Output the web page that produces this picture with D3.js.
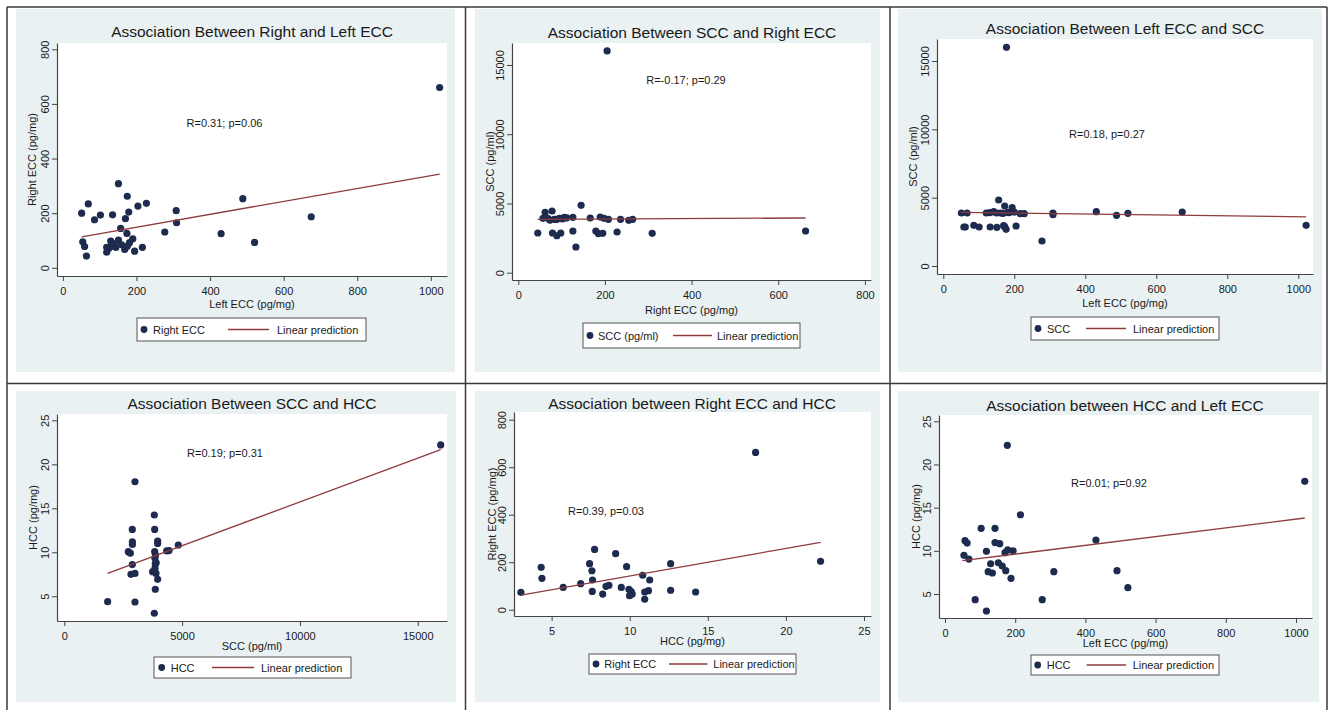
<!DOCTYPE html>
<html><head><meta charset="utf-8">
<script src="https://cdn.jsdelivr.net/npm/d3@7"></script>
<style>
body{margin:0;background:#fff;}
svg{display:block;font-family:"Liberation Sans",Arial,sans-serif;}
</style></head>
<body><svg id="c" width="1331" height="710"></svg>
<script>
// ---------- DATA ----------
const titles = ["Association Between Right and Left ECC","Association Between SCC and Right ECC","Association Between Left ECC and SCC",
  "Association Between SCC and HCC","Association between Right ECC and HCC","Association between HCC and Left ECC"];
const xLabels = ["Left ECC (pg/mg)","Right ECC (pg/mg)","Left ECC (pg/mg)","SCC (pg/ml)","HCC (pg/mg)","Left ECC (pg/mg)"];
const yLabels = ["Right ECC (pg/mg)","SCC (pg/ml)","SCC (pg/ml)","HCC (pg/mg)","Right ECC (pg/mg)","HCC (pg/mg)"];
const legendLabels = ["Right ECC","SCC (pg/ml)","SCC","HCC","Right ECC","HCC"];
const notes = ["R=0.31; p=0.06","R=-0.17; p=0.29","R=0.18, p=0.27","R=0.19; p=0.31","R=0.39, p=0.03","R=0.01; p=0.92"];

const xTicks1 = [0,200,400,600,800,1000], yTicks1 = [0,200,400,600,800];
const xTicks2 = [0,200,400,600,800], yTicks2 = [0,5000,10000,15000];
const xTicks3 = [0,200,400,600,800,1000], yTicks3 = [0,5000,10000,15000];
const xTicks4 = [0,5000,10000,15000], yTicks4 = [5,10,15,20,25];
const xTicks5 = [5,10,15,20,25], yTicks5 = [0,200,400,600,800];
const xTicks6 = [0,200,400,600,800,1000], yTicks6 = [5,10,15,20,25];

// Left ECC vs Right ECC
const pts1 = [[51,200],[54,95],[59,78],[64,43],[69,234],[86,176],[102,193],[119,75],[119,57],[125,72],[130,98],[132,79],
  [135,194],[140,88],[144,75],[151,308],[151,101],[157,144],[160,84],[168,67],[170,180],[175,262],[174,126],[175,79],[179,204],
  [181,92],[190,106],[195,61],[204,226],[216,75],[227,236],[277,131],[308,209],[309,165],[430,125],[489,253],[521,93],[675,187],[1024,660]];
// Right ECC vs SCC
const pts2 = [[45,2866],[57,3928],[62,4360],[68,3928],[73,3800],[78,4455],[79,2866],[83,3855],[88,3850],[89,2670],[95,3928],
  [98,2866],[102,3880],[106,4000],[112,3960],[126,4000],[126,3011],[133,1855],[145,4866],[166,3950],[179,3011],[185,2816],
  [189,4020],[195,2845],[198,3928],[205,16013],[208,3855],[228,2939],[236,3855],[255,3783],[264,3855],[309,2845],[663,3010]];
// Left ECC vs SCC
const pts3 = [[51,3878],[58,2854],[62,2854],[67,3878],[86,2978],[101,2854],[121,3878],[131,3900],[132,2854],[142,3975],
  [150,3880],[151,2830],[156,4829],[161,3878],[168,3850],[170,2950],[173,4390],[173,2878],[177,2683],[178,16000],[181,3927],
  [185,3900],[194,4268],[200,3950],[205,2927],[217,3830],[228,3830],[278,1829],[309,3878],[309,3750],[431,3975],[488,3707],
  [520,3853],[673,3951],[1022,2976]];
// SCC vs HCC
const pts4 = [[1840,4.39],[2717,10.07],[2802,9.9],[2830,7.5],[2886,12.6],[2890,11.2],[2890,10.9],[2887,8.6],[3000,7.6],
  [3000,18.02],[3000,4.35],[3820,14.24],[3836,12.6],[3836,10.07],[3849,9.32],[3860,8.7],[3850,8.2],[3750,7.8],[3891,7.6],
  [3962,6.93],[3862,5.8],[3820,3.07],[3962,11.28],[3962,11.0],[3900,8.8],[3870,9.7],[4346,10.15],[4444,10.2],[4838,10.83],[15976,22.2]];
// HCC vs Right ECC
const pts5 = [[3.03,73],[4.33,178.5],[4.38,132],[5.74,94],[6.86,109.5],[7.43,194],[7.75,254],[7.58,164],[7.62,125],[7.6,77],
  [8.27,66],[8.48,98.5],[8.67,103],[9.1,236],[9.46,94],[9.8,181],[9.95,86],[10.1,76],[9.99,59],[10.16,66],[10.83,145],
  [10.96,44],[10.96,74.5],[11.2,80],[11.28,125],[12.62,194],[12.62,82],[14.22,74.5],[18.06,662],[22.22,203.5]];
// Left ECC vs HCC
const pts6 = [[54,9.48],[57,11.17],[63,10.9],[68,9.05],[86,4.34],[103,12.6],[118,9.94],[118,3.03],[123,7.58],[130,8.5],
  [135,7.43],[142.5,12.6],[142.5,10.95],[152,8.62],[156,10.83],[163,8.24],[171,9.78],[173,7.7],[178.6,10.1],[177.6,22.22],
  [188,6.82],[194,10.0],[215,14.18],[277,4.34],[310,7.58],[430,11.25],[490,7.7],[521,5.73],[1025,18.05]];

// Linear prediction endpoints
const fit1 = [[51,113.5],[1024,343]];
const fit2 = [[45,3850],[663,3950]];
const fit3 = [[50,3920],[1022,3600]];
const fit4 = [[1840,7.61],[15976,21.67]];
const fit5 = [[3.04,61.8],[22.22,283.5]];
const fit6 = [[49.4,8.86],[1025,13.8]];

// ---------- LAYOUT ----------
const layout = [
 {bg:[16,9,455,372], box:[57,43,447,276], xd:[-16,1044], yd:[-30,823], title:[252,36.5], note:[224.5,127], xt:308, yt:36.3,
  leg:[137,318,366,341], lm:7, lt:16, l1:91, l2:132, lt2:140},
 {bg:[475,9,880,372], box:[512,43,871,280], xd:[-14.5,814], yd:[-527,16588], title:[692,37.5], note:[686,84], xt:314, yt:494,
  leg:[583,323,800,348], lm:7, lt:15, l1:90, l2:129, lt2:134},
 {bg:[898,9,1322,372], box:[937,39,1313,274], xd:[-17.7,1041.4], yd:[-585,16610], title:[1125,33.5], note:[1107,138], xt:307, yt:916.7,
  leg:[1031,317,1219,340], lm:7, lt:16, l1:55, l2:95, lt2:102},
 {bg:[16,391,456,702], box:[57,414,447,621], xd:[-310,16243], yd:[2.19,25.72], title:[252,409], note:[225,457], xt:650, yt:37.3,
  leg:[154,657,351,678], lm:7.7, lt:16.7, l1:58, l2:100, lt2:107},
 {bg:[475,391,880,702], box:[514,412,871,616], xd:[2.59,25.45], yd:[-26.5,832.4], title:[692,409], note:[606,515], xt:645, yt:495.7,
  leg:[589,654,796,674], lm:7, lt:15.3, l1:80, l2:118.3, lt2:124.3},
 {bg:[898,391,1319,702], box:[939,415,1312,618], xd:[-17.1,1045.6], yd:[2.22,25.73], title:[1125,410.5], note:[1109,487], xt:647, yt:919.7,
  leg:[1031,655,1219,675], lm:6.7, lt:15.7, l1:55.7, l2:95, lt2:101.7}
];

const allPts = [pts1,pts2,pts3,pts4,pts5,pts6];
const allFits = [fit1,fit2,fit3,fit4,fit5,fit6];
const allXT = [xTicks1,xTicks2,xTicks3,xTicks4,xTicks5,xTicks6];
const allYT = [yTicks1,yTicks2,yTicks3,yTicks4,yTicks5,yTicks6];

const DOT = "#1d2b4f", LINE = "#8e3b3e", BG = "#e9f1f3", INK = "#1a1a1a";
const svg = d3.select("#c");

// panel backgrounds
layout.forEach(L => {
  svg.append("rect").attr("x",L.bg[0]).attr("y",L.bg[1]).attr("width",L.bg[2]-L.bg[0]).attr("height",L.bg[3]-L.bg[1]).attr("fill",BG);
});

// frame lines
const frame = svg.append("g").attr("stroke","#3a3a3a").attr("stroke-width",1.5).attr("fill","none");
frame.append("line").attr("x1",7).attr("y1",7).attr("x2",1327).attr("y2",7);
frame.append("line").attr("x1",7).attr("y1",383.5).attr("x2",1327).attr("y2",383.5);
frame.append("line").attr("x1",7).attr("y1",7).attr("x2",7).attr("y2",710);
frame.append("line").attr("x1",465.5).attr("y1",7).attr("x2",465.5).attr("y2",710);
frame.append("line").attr("x1",890).attr("y1",7).attr("x2",890).attr("y2",710);
frame.append("line").attr("x1",1327).attr("y1",7).attr("x2",1327).attr("y2",710);

layout.forEach((L,i) => {
  const g = svg.append("g");
  const [bx0,by0,bx1,by1] = L.box;
  g.append("rect").attr("x",bx0).attr("y",by0).attr("width",bx1-bx0).attr("height",by1-by0).attr("fill","#fff");
  const x = d3.scaleLinear().domain(L.xd).range([bx0,bx1]);
  const y = d3.scaleLinear().domain(L.yd).range([by1,by0]);

  // axes
  const xa = g.append("g").attr("transform",`translate(0,${by1})`)
    .call(d3.axisBottom(x).tickValues(allXT[i]).tickSize(5).tickSizeOuter(0).tickPadding(3).tickFormat(d3.format("d")));
  const ya = g.append("g").attr("transform",`translate(${bx0},0)`)
    .call(d3.axisLeft(y).tickValues(allYT[i]).tickSize(5).tickSizeOuter(0).tickFormat(d3.format("d")));
  [xa,ya].forEach(a => {
    a.select(".domain").attr("stroke","#444").attr("stroke-width",1.2);
    a.selectAll(".tick line").attr("stroke","#444").attr("stroke-width",1);
    a.selectAll("text").attr("fill",INK).attr("font-size",11).attr("font-family","Liberation Sans, Arial, sans-serif");
  });
  xa.selectAll("text").attr("dy",null).attr("y",19).attr("dominant-baseline",null);
  ya.selectAll(".tick text").attr("x",null).attr("dy",null)
    .attr("transform","translate(-8,0) rotate(-90)").attr("text-anchor","middle");

  // titles and labels
  g.append("text").attr("x",L.title[0]).attr("y",L.title[1]).attr("text-anchor","middle")
    .attr("font-size",15.5).attr("fill",INK).text(titles[i]);
  g.append("text").attr("x",(bx0+bx1)/2).attr("y",L.xt).attr("text-anchor","middle")
    .attr("font-size",11).attr("fill",INK).text(xLabels[i]);
  g.append("text").attr("transform",`translate(${L.yt},${(by0+by1)/2}) rotate(-90)`).attr("text-anchor","middle")
    .attr("font-size",11).attr("fill",INK).text(yLabels[i]);
  g.append("text").attr("x",L.note[0]).attr("y",L.note[1]).attr("text-anchor","middle")
    .attr("font-size",11).attr("fill",INK).text(notes[i]);

  // points
  g.append("g").selectAll("circle").data(allPts[i]).join("circle")
    .attr("cx",d=>x(d[0])).attr("cy",d=>y(d[1])).attr("r",3.6).attr("fill",DOT);
  // fit line
  g.append("path").datum(allFits[i]).attr("fill","none").attr("stroke",LINE).attr("stroke-width",1.3)
    .attr("d",d3.line().x(d=>x(d[0])).y(d=>y(d[1])));

  // legend
  const [lx0,ly0,lx1,ly1] = L.leg, ly = (ly0+ly1)/2;
  g.append("rect").attr("x",lx0).attr("y",ly0).attr("width",lx1-lx0).attr("height",ly1-ly0)
    .attr("fill","#fff").attr("stroke","#555").attr("stroke-width",1);
  g.append("circle").attr("cx",lx0+L.lm).attr("cy",ly).attr("r",3.4).attr("fill",DOT);
  g.append("text").attr("x",lx0+L.lt).attr("y",ly+4).attr("font-size",11).attr("fill",INK).text(legendLabels[i]);
  g.append("line").attr("x1",lx0+L.l1).attr("x2",lx0+L.l2).attr("y1",ly).attr("y2",ly).attr("stroke",LINE).attr("stroke-width",1.3);
  g.append("text").attr("x",lx0+L.lt2).attr("y",ly+4).attr("font-size",11).attr("fill",INK).text("Linear prediction");
});
</script></body></html>
